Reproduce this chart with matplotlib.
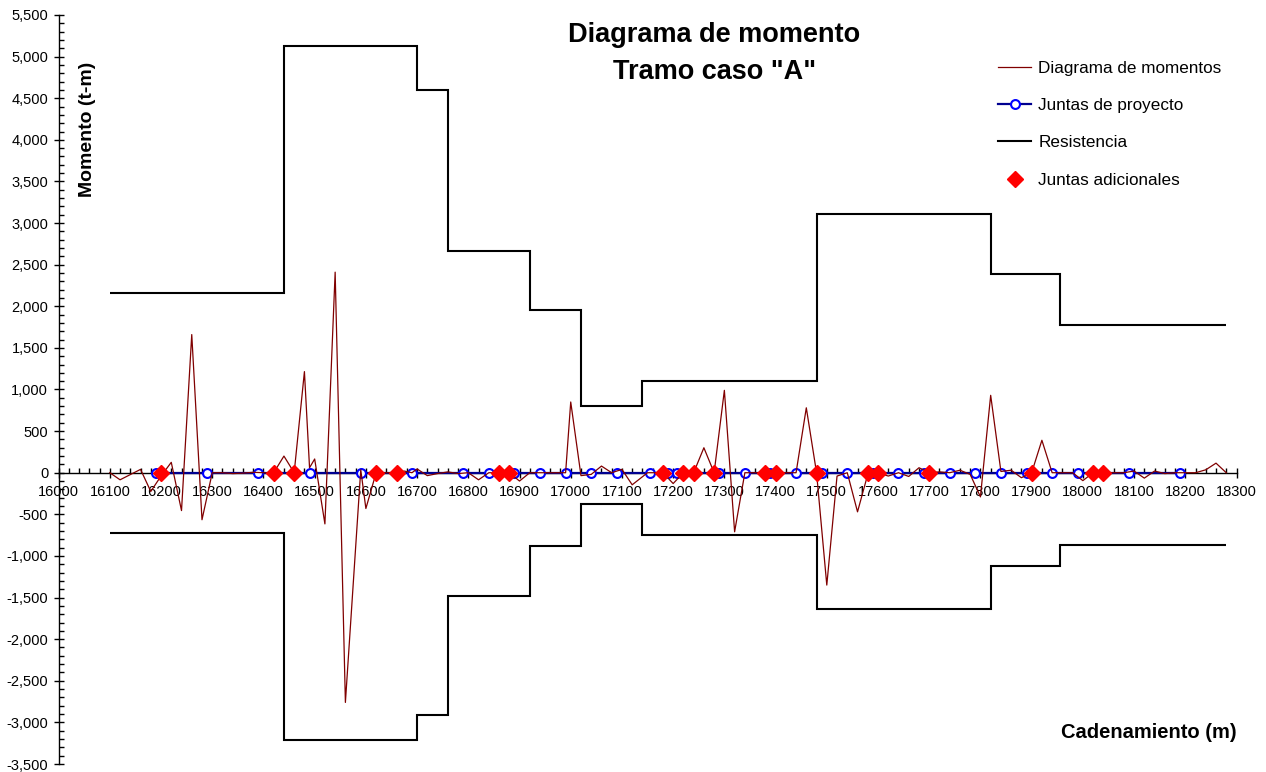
import matplotlib
matplotlib.use("Agg")
import matplotlib.pyplot as plt
from matplotlib.ticker import MultipleLocator, FuncFormatter
from matplotlib.lines import Line2D

plt.rcParams['font.family'] = ['Liberation Sans', 'DejaVu Sans']

# Moment diagram (station m, moment t-m)
mom_x = [16100, 16120, 16160, 16180, 16200, 16220, 16240, 16260, 16280, 16300,
         16320, 16340, 16360, 16380, 16400, 16420, 16440, 16460, 16480, 16490,
         16500, 16520, 16540, 16560, 16590, 16600, 16620, 16640, 16660, 16675,
         16690, 16700, 16720, 16740, 16760, 16780, 16800, 16820, 16840, 16860,
         16880, 16900, 16920, 16940, 16960, 16980, 16990, 17000, 17020, 17040,
         17060, 17080, 17100, 17120, 17150, 17180, 17200, 17220, 17240, 17260,
         17280, 17300, 17320, 17340, 17360, 17380, 17400, 17420, 17440, 17460,
         17480, 17500, 17520, 17540, 17560, 17580, 17600, 17620, 17640, 17660,
         17680, 17700, 17720, 17740, 17760, 17780, 17800, 17820, 17840, 17860,
         17880, 17900, 17920, 17940, 17960, 17980, 18000, 18020, 18040, 18060,
         18080, 18100, 18120, 18140, 18160, 18180, 18200, 18220, 18240, 18260,
         18280]
mom_y = [0, -85, 40, -225, -40, 125, -455, 1660, -565, 0,
         0, -10, -5, 5, 0, 0, 200, 0, 1215, 60,
         165, -615, 2410, -2760, 35, -430, 0, 0, 0, 20,
         0, 45, -35, -10, 10, -10, 0, -85, 0, 0,
         0, -100, 0, 0, 0, 0, 0, 850, -35, -20,
         80, 0, 40, -145, 0, 0, -130, 0, 0, 300,
         0, 990, -710, 0, 0, 0, 0, 0, 0, 780,
         0, -1350, -40, 0, -470, -20, 0, -40, 0, -45,
         60, 0, 10, 0, 30, -20, -290, 930, 15, 30,
         -60, 0, 390, 0, 0, 0, -95, 0, 0, 0,
         0, 20, -65, 20, -10, 0, 0, 0, 35, 115,
         0]

# Project joints and additional joints (station m)
juntas_proyecto = [16190, 16290, 16390, 16490, 16590, 16690, 16790, 16840, 16890,
                   16940, 16990, 17040, 17090, 17155, 17190, 17207, 17290, 17340,
                   17390, 17440, 17490, 17540, 17590, 17640, 17690, 17740, 17790,
                   17840, 17890, 17940, 17990, 18040, 18090, 18190]
juntas_adicionales = [16200, 16420, 16460, 16620, 16660, 16860, 16880, 17180,
                      17220, 17240, 17280, 17380, 17400, 17480, 17580, 17600,
                      17700, 17900, 18020, 18040]

# Resistance envelope: segment edges and values
resist_edges = [16100, 16440, 16700, 16760, 16920, 17020, 17140, 17480, 17820,
                17955, 18280]
resist_pos = [2160, 5130, 4600, 2670, 1960, 800, 1105, 3110, 2390, 1780]
resist_neg = [-720, -3210, -2910, -1480, -880, -375, -745, -1635, -1120, -865]

W, H = 1266, 772
fig = plt.figure(figsize=(W / 100, H / 100), dpi=100)
ax = fig.add_axes([58.6 / W, 1 - 764 / H, (1236.5 - 58.6) / W, (764 - 15) / H])

ax.stairs(resist_pos, resist_edges, baseline=None, color='black', lw=1.5, zorder=2)
ax.stairs(resist_neg, resist_edges, baseline=None, color='black', lw=1.5, zorder=2)
ax.plot(juntas_proyecto, [0] * len(juntas_proyecto), color='#000090', lw=1.6,
        marker='o', ms=6.4, mfc='white', mec='#0000FF', mew=1.5, zorder=3)
ax.plot(mom_x, mom_y, color='#800000', lw=0.9, zorder=4)
ax.plot(juntas_adicionales, [0] * len(juntas_adicionales), ls='none', marker='D',
        ms=8.5, color='#FF0000', zorder=5)

ax.set_xlim(16000, 18300)
ax.set_ylim(-3500, 5500)

for s in ('top', 'right'):
    ax.spines[s].set_visible(False)
ax.spines['bottom'].set_position(('data', 0))
ax.spines['left'].set_position(('data', 16000))
ax.spines['bottom'].set_linewidth(1.0)
ax.spines['left'].set_linewidth(1.0)

ax.xaxis.set_major_locator(MultipleLocator(100))
ax.xaxis.set_minor_locator(MultipleLocator(20))
ax.yaxis.set_major_locator(MultipleLocator(500))
ax.yaxis.set_minor_locator(MultipleLocator(100))
ax.yaxis.set_major_formatter(FuncFormatter(lambda v, p: f"{int(round(v)):,}"))
ax.xaxis.set_major_formatter(FuncFormatter(lambda v, p: f"{int(round(v))}"))

ax.tick_params(axis='x', which='major', direction='inout', length=7, width=1,
               labelsize=10.5, pad=5.5)
ax.tick_params(axis='x', which='minor', direction='in', length=3.5, width=1)
ax.tick_params(axis='y', which='major', direction='inout', length=7, width=1,
               labelsize=10.5, pad=4)
ax.tick_params(axis='y', which='minor', direction='in', length=3.5, width=1)

fig.text(714.5 / W, 1 - 35 / H, 'Diagrama de momento', ha='center', va='center',
         fontsize=19.5, fontweight='bold')
fig.text(714.5 / W, 1 - 72 / H, 'Tramo caso "A"', ha='center', va='center',
         fontsize=19.5, fontweight='bold')
fig.text(87 / W, 1 - 129 / H, 'Momento (t-m)', rotation=90, ha='center',
         va='center', fontsize=14, fontweight='bold')
fig.text(1237 / W, 1 - 733 / H, 'Cadenamiento (m)', ha='right', va='center',
         fontsize=14.5, fontweight='bold')

handles = [
    Line2D([], [], color='#800000', lw=0.9),
    Line2D([], [], color='#000090', lw=1.6, marker='o', ms=6.4, mfc='white',
           mec='#0000FF', mew=1.5),
    Line2D([], [], color='black', lw=1.5),
    Line2D([], [], ls='none', marker='D', ms=8.5, color='#FF0000'),
]
labels = ['Diagrama de momentos', 'Juntas de proyecto', 'Resistencia',
          'Juntas adicionales']
fig.legend(handles, labels, loc='upper left',
           bbox_to_anchor=(998 / W, 1 - 61 / H), frameon=False, fontsize=12.3,
           borderpad=0, borderaxespad=0, handlelength=1.95, handletextpad=0.4,
           labelspacing=1.3)

fig.savefig('out.png', dpi=100)
